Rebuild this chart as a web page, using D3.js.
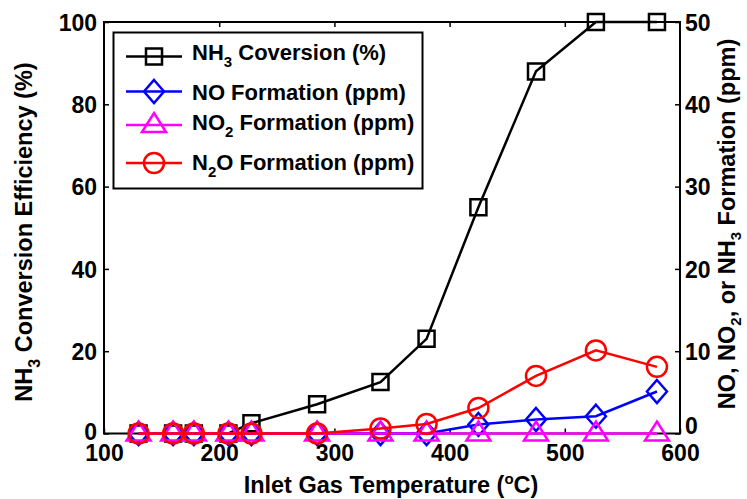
<!DOCTYPE html>
<html>
<head>
    <script src="https://d3js.org/d3.v7.min.js"></script>
    <style>
        body { margin: 0; background: #fff; }
        text { font-family: "Liberation Sans", Arial, sans-serif; font-weight: bold; fill: #000; }
    </style>
</head>
<body>
    <div id="chart"></div>

    <script>
        // data
        const temps = [130, 160, 178, 208, 228, 285, 340, 380, 425, 475, 527, 580];
        const nh3Conv = [0, 0, 0, 0, 2.5, 7.1, 12.5, 23, 55, 88, 100, 100];   // %
        const noForm = [0, 0, 0, 0, 0, 0, 0, 0, 1.1, 1.7, 2.1, 5.1];          // ppm
        const no2Form = [0, 0, 0, 0, 0, 0, 0, 0, 0, 0, 0, 0];                 // ppm
        const n2oForm = [0, 0, 0, 0, 0, 0, 0.6, 1.15, 3.1, 7.0, 10.1, 8.1];    // ppm

        const xTicks = [100, 200, 300, 400, 500, 600];
        const leftTicks = [0, 20, 40, 60, 80, 100];
        const rightTicks = [0, 10, 20, 30, 40, 50];

        const width = 747, height = 499;
        const pLeft = 104, pRight = 680, pTop = 22, pBottom = 433.5;

        const svg = d3.select("#chart")
            .append("svg")
            .attr("width", width)
            .attr("height", height);

        const x = d3.scaleLinear().domain([100, 600]).range([pLeft, pRight]);
        const yL = d3.scaleLinear().domain([0, 100]).range([pBottom, pTop]);
        const yR = d3.scaleLinear().domain([0, 50]).range([pBottom, pTop]);

        ////////////////////////////////////////////////////////////////////////
        // axes (matlab style, ticks inside)

        const tickLen = 5;
        const axX = d3.axisBottom(x).tickValues(xTicks).tickSize(-tickLen).tickPadding(12).tickFormat(d3.format("d"));
        const axTop = d3.axisTop(x).tickValues([200, 300, 400, 500]).tickSize(-tickLen).tickFormat("");
        const axL = d3.axisLeft(yL).tickValues(leftTicks).tickSize(-tickLen).tickPadding(7);
        const axR = d3.axisRight(yR).tickValues(rightTicks).tickSize(-tickLen).tickPadding(5);

        const gx = svg.append("g").attr("transform", `translate(0,${pBottom})`).call(axX);
        const gt = svg.append("g").attr("transform", `translate(0,${pTop})`).call(axTop);
        const gl = svg.append("g").attr("transform", `translate(${pLeft},0)`).call(axL);
        const gr = svg.append("g").attr("transform", `translate(${pRight},0)`).call(axR);

        [gx, gt, gl, gr].forEach(g => {
            g.select(".domain").remove();
            g.selectAll(".tick line").attr("stroke", "#000").attr("stroke-width", 1.5);
            g.selectAll("text").style("font-size", "23px").attr("fill", "#000");
        });
        gx.selectAll("text").attr("dy", "0.71em").attr("y", 11);
        gl.selectAll("text").attr("dy", "0.36em");
        gr.selectAll("text").attr("dy", "0.36em");
        // the zeros sit a bit higher so they don't run into the x labels
        gl.selectAll(".tick").filter(d => d === 0).select("text").attr("dy", "0.28em");
        gr.selectAll(".tick").filter(d => d === 0).select("text").attr("dy", "0.02em");

        // frame
        svg.append("rect")
            .attr("x", pLeft).attr("y", pTop)
            .attr("width", pRight - pLeft).attr("height", pBottom - pTop)
            .attr("fill", "none").attr("stroke", "#000").attr("stroke-width", 2);

        ////////////////////////////////////////////////////////////////////////
        // markers

        function markerPath(type) {
            if (type === "square") return "M-8,-8H8V8H-8Z";
            if (type === "diamond") return "M0,-11.5L10,0L0,11.5L-10,0Z";
            if (type === "triangle") return "M0,-12L12,7L-12,7Z";
            return d3.symbol(d3.symbolCircle, Math.PI * 100)();  // r = 10
        }

        const series = [
            {name: "nh3", vals: nh3Conv, y: yL, color: "#000000", marker: "square"},
            {name: "no", vals: noForm, y: yR, color: "#0000ff", marker: "diamond"},
            {name: "no2", vals: no2Form, y: yR, color: "#ff00ff", marker: "triangle"},
            {name: "n2o", vals: n2oForm, y: yR, color: "#ff0000", marker: "circle"}
        ];

        series.forEach(s => {
            const pts = temps.map((t, i) => [t, s.vals[i]]);
            const line = d3.line().x(d => x(d[0])).y(d => s.y(d[1]));
            const g = svg.append("g");
            g.append("path")
                .datum(pts)
                .attr("d", line)
                .attr("fill", "none")
                .attr("stroke", s.color)
                .attr("stroke-width", 2.5);
            g.selectAll("path.mk")
                .data(pts)
                .enter()
                .append("path")
                .attr("class", "mk")
                .attr("d", markerPath(s.marker))
                .attr("transform", d => `translate(${x(d[0])},${s.y(d[1])})`)
                .attr("fill", "none")
                .attr("stroke", s.color)
                .attr("stroke-width", 2.5);
        });

        ////////////////////////////////////////////////////////////////////////
        // legend

        const legend = svg.append("g");
        legend.append("rect")
            .attr("x", 113.5).attr("y", 32.5)
            .attr("width", 309).attr("height", 156)
            .attr("fill", "#fff").attr("stroke", "#000").attr("stroke-width", 2);

        const legendRows = [
            {lineY: 56.5, base: 60, parts: [["NH", 0], ["3", 1], [" Coversion (%)", 0]]},
            {lineY: 91.5, base: 100, parts: [["NO Formation (ppm)", 0]]},
            {lineY: 125, base: 130, parts: [["NO", 0], ["2", 1], [" Formation (ppm)", 0]]},
            {lineY: 163, base: 170, parts: [["N", 0], ["2", 1], ["O Formation (ppm)", 0]]}
        ];

        // write text pieces, subscript ones (flag 1) smaller and lower
        function addParts(t, parts, subSize, drop) {
            let shifted = false;
            parts.forEach(p => {
                const ts = t.append("tspan").text(p[0]);
                if (p[1] === 1) {
                    ts.style("font-size", subSize + "px").attr("dy", drop);
                    shifted = true;
                } else if (shifted) {
                    ts.attr("dy", -drop);
                    shifted = false;
                }
            });
        }

        legendRows.forEach((row, i) => {
            const s = series[i];
            legend.append("line")
                .attr("x1", 126).attr("x2", 182)
                .attr("y1", row.lineY).attr("y2", row.lineY)
                .attr("stroke", s.color).attr("stroke-width", 2.5);
            legend.append("path")
                .attr("d", markerPath(s.marker))
                .attr("transform", `translate(154,${row.lineY})`)
                .attr("fill", "none").attr("stroke", s.color).attr("stroke-width", 2.5);
            const t = legend.append("text")
                .attr("x", 192).attr("y", row.base)
                .style("font-size", "22px");
            addParts(t, row.parts, 15, 7);
        });

        ////////////////////////////////////////////////////////////////////////
        // axis titles

        const xt = svg.append("text")
            .attr("x", 391).attr("y", 493)
            .attr("text-anchor", "middle")
            .style("font-size", "23.5px");
        xt.append("tspan").text("Inlet Gas Temperature (");
        xt.append("tspan").text("o").style("font-size", "15px").attr("dy", -9);
        xt.append("tspan").text("C)").attr("dy", 9);

        const yl = svg.append("text")
            .attr("transform", "translate(32,232) rotate(-90)")
            .attr("text-anchor", "middle")
            .style("font-size", "23.5px");
        addParts(yl, [["NH", 0], ["3", 1], [" Conversion Efficiency (%)", 0]], 16, 8);

        const yr = svg.append("text")
            .attr("transform", "translate(735,224) rotate(-90)")
            .attr("text-anchor", "middle")
            .style("font-size", "23.5px");
        addParts(yr, [["NO, NO", 0], ["2", 1], [", or NH", 0], ["3", 1], [" Formation (ppm)", 0]], 15, 6);
    </script>
</body>
</html>
